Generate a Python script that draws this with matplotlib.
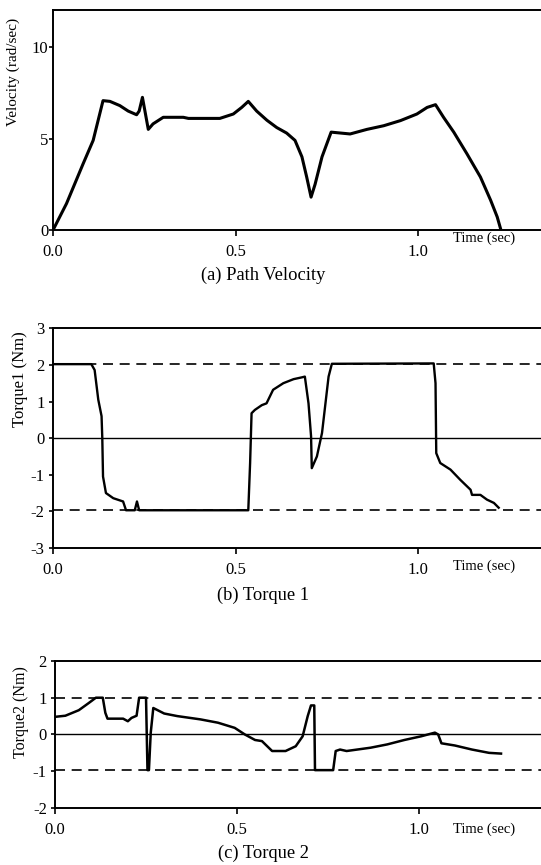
import matplotlib
matplotlib.use('Agg')
from matplotlib import pyplot as plt

plt.rcParams['font.family'] = ['Liberation Serif', 'DejaVu Serif']
plt.rcParams['axes.unicode_minus'] = False

# (a) path velocity, rad/sec
vel_t = [0.0, 0.037, 0.082, 0.11, 0.137, 0.156, 0.183, 0.206, 0.229, 0.236,
         0.245, 0.261, 0.274, 0.302, 0.357, 0.371, 0.457, 0.494, 0.517, 0.535,
         0.558, 0.586, 0.613, 0.64, 0.663, 0.682, 0.695, 0.707, 0.718, 0.737,
         0.762, 0.814, 0.86, 0.906, 0.952, 0.997, 1.025, 1.048, 1.07, 1.098,
         1.134, 1.171, 1.199, 1.217, 1.226]
vel_v = [0.0, 1.45, 3.6, 4.9, 7.07, 7.03, 6.8, 6.5, 6.3, 6.5,
         7.25, 5.5, 5.8, 6.16, 6.16, 6.1, 6.1, 6.34, 6.7, 7.03,
         6.5, 6.0, 5.6, 5.3, 4.9, 4.0, 2.9, 1.8, 2.5, 4.0,
         5.35, 5.25, 5.5, 5.7, 5.98, 6.34, 6.7, 6.85, 6.16, 5.35,
         4.17, 2.9, 1.63, 0.72, 0.09]

# (b) torque 1, Nm
tq1_t = [0.0, 0.105, 0.114, 0.124, 0.133, 0.135, 0.137, 0.145, 0.165, 0.192,
         0.2, 0.224, 0.23, 0.236, 0.535, 0.54, 0.544, 0.553, 0.572, 0.585,
         0.603, 0.631, 0.659, 0.682, 0.69, 0.7, 0.707, 0.709, 0.723, 0.737,
         0.755, 0.764, 1.043, 1.048, 1.05, 1.061, 1.089, 1.116, 1.144, 1.148,
         1.171, 1.189, 1.208, 1.221]
tq1_v = [2.02, 2.02, 1.86, 1.05, 0.6, 0.0, -1.05, -1.5, -1.64, -1.73,
         -1.97, -1.97, -1.73, -1.97, -1.97, -0.68, 0.68, 0.77, 0.9, 0.95,
         1.32, 1.5, 1.61, 1.66, 1.68, 0.95, 0.05, -0.82, -0.5, 0.14,
         1.68, 2.03, 2.04, 1.5, -0.41, -0.68, -0.86, -1.14, -1.41, -1.55,
         -1.55, -1.68, -1.77, -1.9]

# (c) torque 2, Nm
tq2_t = [0.0, 0.028, 0.065, 0.093, 0.112, 0.131, 0.138, 0.144, 0.187, 0.2,
         0.21, 0.224, 0.231, 0.25, 0.254, 0.258, 0.263, 0.27, 0.3, 0.336,
         0.4, 0.448, 0.494, 0.522, 0.55, 0.569, 0.597, 0.634, 0.662, 0.681,
         0.695, 0.704, 0.713, 0.715, 0.765, 0.772, 0.784, 0.802, 0.868, 0.914,
         0.961, 1.007, 1.045, 1.054, 1.063, 1.1, 1.147, 1.194, 1.227]
tq2_v = [0.48, 0.51, 0.66, 0.86, 1.0, 1.0, 0.59, 0.43, 0.43, 0.36,
         0.45, 0.51, 1.0, 1.0, -0.97, -0.97, 0.05, 0.72, 0.57, 0.5,
         0.41, 0.32, 0.18, 0.0, -0.15, -0.18, -0.45, -0.45, -0.32, -0.05,
         0.5, 0.79, 0.79, -0.97, -0.97, -0.45, -0.41, -0.45, -0.36, -0.27,
         -0.15, -0.05, 0.05, 0.0, -0.24, -0.3, -0.41, -0.5, -0.52]

x_ticks = [0.0, 0.5, 1.0]
x_labels = ['0.0', '0.5', '1.0']


def style_axis(ax, ylim, yticks, ylabel, label_pos, label_size, time_offset, ypad):
    ax.set_xlim(0, 1.337)
    ax.set_ylim(*ylim)
    ax.set_xticks(x_ticks)
    ax.set_xticklabels(x_labels)
    ax.set_yticks(yticks)
    ax.spines['right'].set_visible(False)
    for s in ['left', 'bottom', 'top']:
        ax.spines[s].set_linewidth(1.4)
    ax.tick_params(direction='out', length=4, width=1.2, labelsize=12)
    ax.tick_params(axis='x', pad=6)
    ax.tick_params(axis='y', pad=ypad, length=3)
    ax.text(label_pos[0], label_pos[1], ylabel, rotation=90, ha='center',
            va='center', fontsize=label_size, transform=ax.transAxes)
    ax.annotate('Time (sec)', xy=(1.096, 0), xycoords=('data', 'axes fraction'),
                xytext=(0, -time_offset), textcoords='offset points',
                ha='left', va='center', fontsize=10.5)


fig = plt.figure(figsize=(5.41, 8.65), dpi=100)

ax1 = fig.add_axes([0.098, 0.734, 0.902, 0.254])
ax1.plot(vel_t, vel_v, color='black', lw=2.2)
style_axis(ax1, (0, 12), [0, 5, 10], 'Velocity (rad/sec)', (-0.082, 0.72), 11, 6, 0.5)

ax2 = fig.add_axes([0.098, 0.3665, 0.902, 0.254])
ax2.axhline(0, color='black', lw=1)
ax2.axhline(2.02, color='black', lw=1.2, ls=(0, (6, 4)))
ax2.axhline(-1.97, color='black', lw=1.2, ls=(0, (6, 4)))
ax2.plot(tq1_t, tq1_v, color='black', lw=1.7)
style_axis(ax2, (-3, 3), [-3, -2, -1, 0, 1, 2, 3], 'Torque1 (Nm)', (-0.068, 0.77), 12, 13, 3)

ax3 = fig.add_axes([0.102, 0.0659, 0.898, 0.170])
ax3.axhline(0, color='black', lw=1)
ax3.axhline(1.0, color='black', lw=1.2, ls=(0, (6, 4)))
ax3.axhline(-0.98, color='black', lw=1.2, ls=(0, (6, 4)))
ax3.plot(tq2_t, tq2_v, color='black', lw=1.8)
style_axis(ax3, (-2, 2), [-2, -1, 0, 1, 2], 'Torque2 (Nm)', (-0.07, 0.65), 11.5, 15, 3)

fig.text(263 / 541, 1 - 275 / 865, '(a) Path Velocity', ha='center', va='center', fontsize=13.3)
fig.text(263 / 541, 1 - 595 / 865, '(b) Torque 1', ha='center', va='center', fontsize=13.3)
fig.text(263 / 541, 1 - 853 / 865, '(c) Torque 2', ha='center', va='center', fontsize=13.3)

fig.savefig('out.png', dpi=100)
